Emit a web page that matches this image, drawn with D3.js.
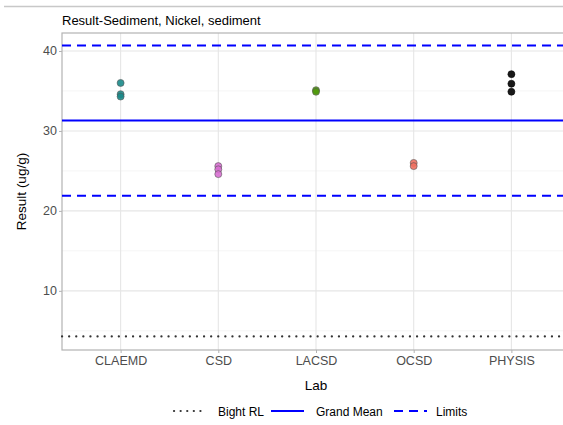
<!DOCTYPE html>
<html><head><meta charset="utf-8">
<script src="https://cdn.jsdelivr.net/npm/d3@7"></script>
<style>body{margin:0;background:#fff;font-family:"Liberation Sans",Arial,sans-serif;}</style>
</head><body><svg id="c" width="563" height="425"></svg>
<script>
const labs = ["CLAEMD","CSD","LACSD","OCSD","PHYSIS"];
const labColors = ["#1a8a8a","#d86fd2","#4f9a0a","#f07060","#000000"];
const CLAEMD = [36.0, 34.6, 34.3];
const CSD = [25.6, 25.2, 24.6];
const LACSD = [35.1, 34.9];
const OCSD = [26.0, 25.6];
const PHYSIS = [37.1, 35.9, 34.9];
const yTicks = [10, 20, 30, 40];
const grandMean = 31.3;
const limits = [21.9, 40.7];
const bightRL = 4.3;
const legendLabels = ["Bight RL","Grand Mean","Limits"];

const results = [CLAEMD, CSD, LACSD, OCSD, PHYSIS];
const svg = d3.select("#c");
const L = 62, R = 570, T = 33, B = 350;
const x = d3.scalePoint().domain(labs).range([L, R]).padding(0.6);
const y = d3.scaleLinear().domain([2.6, 42.25]).range([B, T]);

// top rule
svg.append("line").attr("x1",4).attr("x2",563).attr("y1",6.5).attr("y2",6.5).attr("stroke","#c8c8c8").attr("stroke-width",1.5);

// title
svg.append("text").attr("x",62).attr("y",25).attr("font-size",13).attr("fill","#000").text("Result-Sediment, Nickel, sediment");

// gridlines
const minor = [5,15,25,35];
svg.append("g").selectAll("line").data(minor).join("line")
  .attr("x1",L).attr("x2",R).attr("y1",d=>y(d)).attr("y2",d=>y(d)).attr("stroke","#f2f2f2").attr("stroke-width",0.8);
svg.append("g").selectAll("line").data(yTicks).join("line")
  .attr("x1",L).attr("x2",R).attr("y1",d=>y(d)).attr("y2",d=>y(d)).attr("stroke","#e6e6e6").attr("stroke-width",1.1);
svg.append("g").selectAll("line").data(labs).join("line")
  .attr("x1",d=>x(d)).attr("x2",d=>x(d)).attr("y1",T).attr("y2",B).attr("stroke","#e6e6e6").attr("stroke-width",1.1);

// axes
const ya = svg.append("g").attr("transform",`translate(${L},0)`).call(d3.axisLeft(y).tickValues(yTicks).tickSize(3).tickPadding(2));
const xa = svg.append("g").attr("transform",`translate(0,${B})`).call(d3.axisBottom(x).tickSize(3).tickPadding(3));
[ya,xa].forEach(a=>{
  a.select(".domain").remove();
  a.selectAll(".tick line").attr("stroke","#b3b3b3");
  a.selectAll(".tick text").attr("fill","#4d4d4d").attr("font-size",12.5).attr("font-family","Liberation Sans, Arial, sans-serif");
});

// panel border
svg.append("rect").attr("x",L).attr("y",T).attr("width",R-L).attr("height",B-T).attr("fill","none").attr("stroke","#b3b3b3").attr("stroke-width",1.2);

// reference lines
const hl = (v, dash, w) => svg.append("line").attr("x1",L).attr("x2",R).attr("y1",y(v)).attr("y2",y(v))
  .attr("stroke", dash==="dot" ? "#333" : "#0000ff").attr("stroke-width", w)
  .attr("stroke-dasharray", dash==="dot" ? "0.1,7" : dash==="dash" ? "9,6" : null)
  .attr("stroke-linecap", dash==="dot" ? "round" : "butt");
hl(bightRL,"dot",2.2);
hl(grandMean,null,2);
limits.forEach(v=>hl(v,"dash",2));

// points
const pts = [];
results.forEach((arr,i)=>arr.forEach(v=>pts.push({lab:labs[i],v,c:labColors[i]})));
svg.append("g").selectAll("circle").data(pts).join("circle")
  .attr("cx",d=>x(d.lab)).attr("cy",d=>y(d.v)).attr("r",3.5)
  .attr("fill",d=>d.c).attr("fill-opacity",0.9).attr("stroke",d=>d.c==="#000000"?"#000":"#555").attr("stroke-width",0.6);

// axis titles
svg.append("text").attr("x",(L+R)/2).attr("y",390).attr("text-anchor","middle").attr("font-size",13.5).attr("fill","#000").text("Lab");
svg.append("text").attr("transform",`translate(26,${(T+B)/2}) rotate(-90)`).attr("text-anchor","middle").attr("font-size",13.5).attr("fill","#000").text("Result (ug/g)");

// legend
const lg = svg.append("g");
const keys = [{x1:174,x2:205,d:"dot",tx:218},{x1:271,x2:304,d:null,tx:316},{x1:394,x2:427,d:"dash",tx:436}];
keys.forEach((k,i)=>{
  lg.append("line").attr("x1",k.x1).attr("x2",k.x2).attr("y1",411).attr("y2",411)
    .attr("stroke", k.d==="dot"?"#333":"#0000ff").attr("stroke-width",k.d==="dot"?2.2:2)
    .attr("stroke-dasharray", k.d==="dot"?"0.1,6.5":k.d==="dash"?"9,6":null)
    .attr("stroke-linecap", k.d==="dot"?"round":"butt");
  lg.append("text").attr("x",k.tx).attr("y",415.5).attr("font-size",12).attr("fill","#000").text(legendLabels[i]);
});
</script></body></html>
